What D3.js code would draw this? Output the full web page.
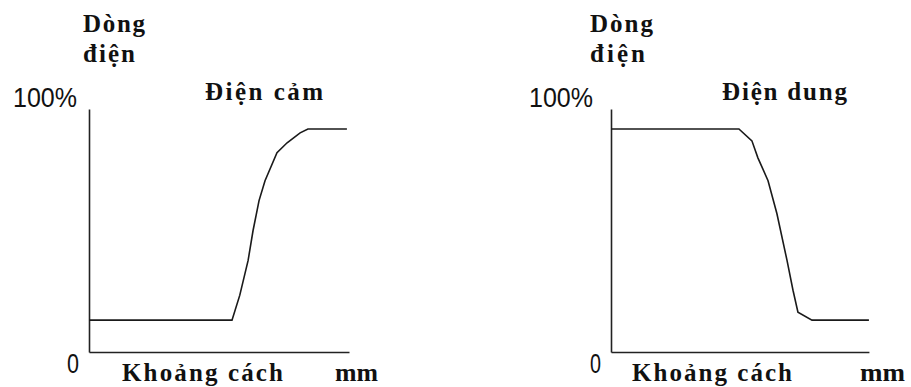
<!DOCTYPE html>
<html>
<head>
<meta charset="utf-8">
<script src="https://cdn.jsdelivr.net/npm/d3@7"></script>
<style>
  html, body { margin: 0; padding: 0; background: #fff; }
  svg { display: block; }
</style>
</head>
<body>
<svg id="chart" width="911" height="387"></svg>
<script>
// ---- Data ----
const yTickLabels = ["0", "100%"];
const yAxisTitle = ["Dòng", "điện"];
const xAxisTitle = "Khoảng cách";
const xUnit = "mm";
const chartTitles = ["Điện cảm", "Điện dung"];

// distance (% of axis) vs current (%)
const inductiveX = [0, 55, 58, 61.2, 63.1, 65.4, 67.7, 72.3, 76.2, 81.2, 84.2, 99.2];
const inductiveY = [13.1, 13.1, 23.4, 37.7, 50, 62.3, 70.5, 82, 86.1, 90.2, 91.8, 91.8];
const capacitiveX = [0, 49.2, 54.2, 56.5, 60.4, 63.8, 67.7, 70, 71.9, 77.3, 99.2];
const capacitiveY = [91.8, 91.8, 86.9, 79.9, 70.5, 57, 37.7, 25.4, 16.4, 13.1, 13.1];

const panels = [
  { xs: inductiveX, ys: inductiveY, title: chartTitles[0], ox: 89, xEnd: 100,
    t: { y1: [83, 62], y2: [83, 52], tit: [205, 118], p100: [13, 64], zero: [67, 12], kc: [122, 161], mm: [335, 43] } },
  { xs: capacitiveX, ys: capacitiveY, title: chartTitles[1], ox: 611, xEnd: 99.2,
    t: { y1: [590, 63], y2: [590, 55], tit: [722, 125], p100: [529, 64], zero: [590, 11], kc: [632, 160], mm: [860, 45] } }
];

const svg = d3.select("#chart");
const serif = "'Liberation Serif', 'Times New Roman', serif";
const sans = "'Liberation Sans', Arial, sans-serif";

function label(g, txt, x, y, w, font, size, weight, adj) {
  g.append("text")
    .attr("x", x).attr("y", y)
    .attr("textLength", w)
    .attr("lengthAdjust", adj || "spacing")
    .attr("font-family", font)
    .attr("font-size", size)
    .attr("font-weight", weight)
    .attr("fill", "#111")
    .text(txt);
}

panels.forEach(p => {
  const x = d3.scaleLinear().domain([0, 100]).range([p.ox, p.ox + 260]);
  const y = d3.scaleLinear().domain([0, 100]).range([352, 109]);
  const g = svg.append("g");

  // axes (domain lines only)
  const xAxis = d3.axisBottom(x.copy().domain([0, p.xEnd]).range([p.ox, x(p.xEnd)])).tickValues([]).tickSizeOuter(0);
  const yAxis = d3.axisLeft(y).tickValues([]).tickSizeOuter(0);
  g.append("g").attr("transform", `translate(0,${y(0)})`).call(xAxis)
    .select(".domain").attr("stroke", "#222").attr("stroke-width", 1.6);
  g.append("g").attr("transform", `translate(${x(0)},0)`).call(yAxis)
    .select(".domain").attr("stroke", "#222").attr("stroke-width", 1.6);

  // curve
  const pts = p.xs.map((v, i) => [v, p.ys[i]]);
  g.append("path")
    .datum(pts)
    .attr("fill", "none")
    .attr("stroke", "#1a1a1a")
    .attr("stroke-width", 1.6)
    .attr("d", d3.line().x(d => x(d[0])).y(d => y(d[1])));

  // texts
  const t = p.t;
  label(g, yAxisTitle[0], t.y1[0], 32, t.y1[1], serif, 25, "bold");
  label(g, yAxisTitle[1], t.y2[0], 62, t.y2[1], serif, 25, "bold");
  label(g, p.title, t.tit[0], 100, t.tit[1], serif, 25, "bold");
  label(g, yTickLabels[1], t.p100[0], y(100) - 2, t.p100[1], sans, 27, "normal", "spacingAndGlyphs");
  label(g, yTickLabels[0], t.zero[0], 373, t.zero[1], sans, 27, "normal", "spacingAndGlyphs");
  label(g, xAxisTitle, t.kc[0], 381, t.kc[1], serif, 25, "bold");
  label(g, xUnit, t.mm[0], 381, t.mm[1], serif, 25, "bold", "spacingAndGlyphs");
});
</script>
</body>
</html>
